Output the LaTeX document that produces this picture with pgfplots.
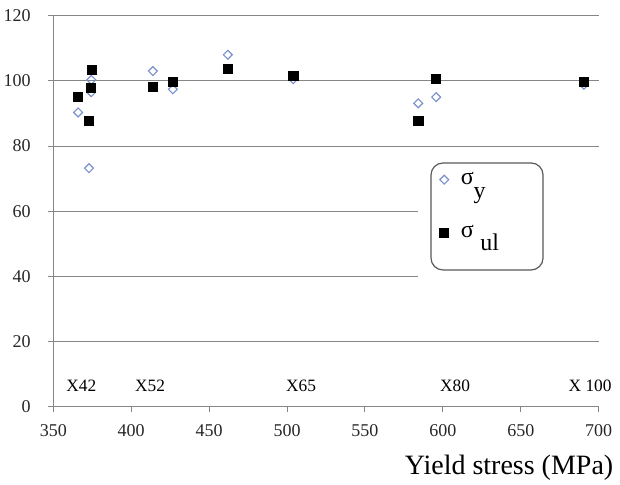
\documentclass[border=0pt]{standalone}
\usepackage{pgfplots}
\pgfplotsset{compat=1.18}
\usepackage{fontspec}
\setmainfont{Liberation Serif}
\definecolor{gridgray}{RGB}{134,134,134}
\definecolor{diamblue}{RGB}{122,144,204}
\begin{document}
\begin{tikzpicture}
\path[use as bounding box] (-39.98pt,-58.7pt) rectangle (425pt,305pt);
\begin{axis}[
  scale only axis, width=409.05pt, height=293.25pt,
  xmin=350, xmax=700, ymin=0, ymax=120,
  xtick={350,400,...,700}, ytick={0,20,...,120},
  axis lines*=left,
  axis line style={gridgray, line width=0.75pt},
  tick style={gridgray, line width=0.75pt},
  tick align=outside, major tick length=4pt,
  /pgf/number format/assume math mode=true,
  /pgf/number format/1000 sep={},
  ticklabel style={font=\fontsize{13.5}{15}\selectfont, text=black!85},
  xticklabel style={anchor=base, yshift=-18pt},
  yticklabel style={anchor=east, xshift=-9.4pt},
  clip=false,
  legend style={at={(axis description cs:0.6925,0.6233)}, anchor=north west,
    draw=none, fill=none, inner xsep=6.3pt, inner ysep=5pt, row sep=25pt,
    column sep=7pt,
    font=\fontsize{18}{20}\selectfont},
  legend cell align=left,
]
% grid lines
\draw[gridgray, line width=0.75pt] (axis cs:350,20) -- (axis cs:700,20);
\draw[gridgray, line width=0.75pt] (axis cs:350,40) -- (axis cs:584,40);
\draw[gridgray, line width=0.75pt] (axis cs:350,60) -- (axis cs:584,60);
\draw[gridgray, line width=0.75pt] (axis cs:350,80) -- (axis cs:700,80);
\draw[gridgray, line width=0.75pt] (axis cs:350,100) -- (axis cs:700,100);
\draw[gridgray, line width=0.75pt] (axis cs:350,120) -- (axis cs:700,120);
% legend box
\draw[black!65, line width=0.9pt, rounded corners=9pt, fill=white]
  (axis description cs:0.6925,0.6233) rectangle (axis description cs:0.8979,0.3496);

\addplot[only marks, mark=square, mark size=2.35pt,
  mark options={rotate=45, draw=diamblue, fill=white, line width=0.85pt}] table {
x y
374.4 100.3
374.3 96.5
365.9 90.3
372.9 73.2
413.9 103.0
426.7 97.4
462.0 108.0
504.0 100.5
595.7 95.0
584.2 93.1
690.5 98.8
};
\addlegendentry{σ\raisebox{-0.55em}{y}}
\addplot[only marks, mark=square*, mark size=3.4pt,
  mark options={fill=black, draw=black}] table {
x y
374.4 103.3
374.3 97.9
365.9 95.2
372.9 87.8
413.9 98.2
426.7 99.6
462.0 103.6
504.0 101.6
595.7 100.5
584.2 87.8
690.5 99.6
};
\addlegendentry{σ\hspace{5pt}\raisebox{-0.55em}{ul}}

\node[font=\fontsize{13}{15}\selectfont, anchor=base] at (axis cs:368,4.6) {X42};
\node[font=\fontsize{13}{15}\selectfont, anchor=base] at (axis cs:412.1,4.6) {X52};
\node[font=\fontsize{13}{15}\selectfont, anchor=base] at (axis cs:509,4.6) {X65};
\node[font=\fontsize{13}{15}\selectfont, anchor=base] at (axis cs:607.8,4.6) {X80};
\node[font=\fontsize{13}{15}\selectfont, anchor=base] at (axis cs:694.5,4.6) {X 100};
\end{axis}
\node[anchor=base east, font=\fontsize{21}{24}\selectfont] at (423.5pt,-50.5pt) {Yield stress (MPa)};
\end{tikzpicture}
\end{document}
